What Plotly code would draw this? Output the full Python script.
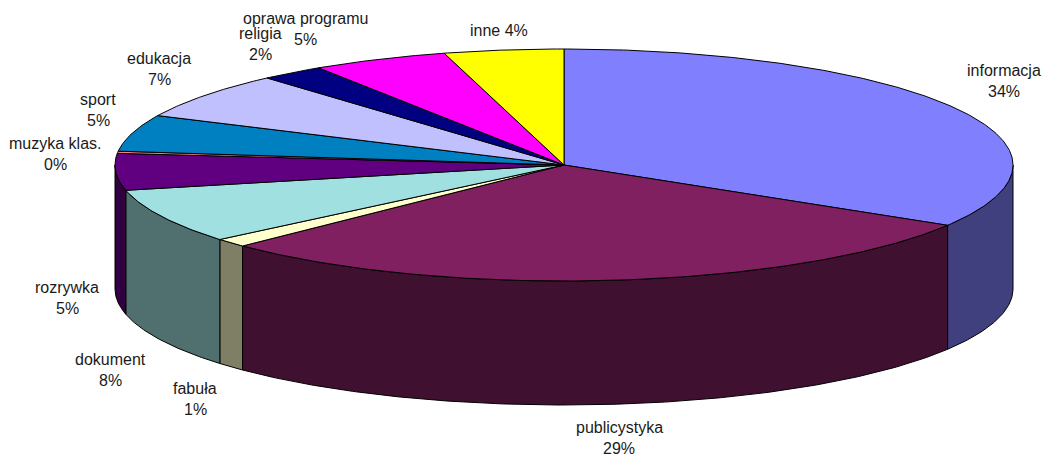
import numpy as np
import plotly.graph_objects as go

categories = ["informacja", "publicystyka", "fabuła", "dokument", "rozrywka", "muzyka klas.",
              "sport", "edukacja", "religia", "oprawa programu", "inne"]
values = [33.7, 29.0, 1.2, 7.6, 5.1, 0.3, 5.1, 6.5, 2.3, 4.9, 4.3]
percent_labels = ["34%", "29%", "1%", "8%", "5%", "0%", "5%", "7%", "2%", "5%", "4%"]
colors = ["#8080FF", "#802060", "#FFFFCC", "#A0E0E0", "#600080", "#FF8080",
          "#0080C0", "#C0C0FF", "#000080", "#FF00FF", "#FFFF00"]
label_x = [1004, 619, 195, 110, 67, 55, 98, 159, 260, 305, 499]
label_y = [70, 427, 388, 359, 287, 143, 99, 58, 33, 18, 30]

CX, CY, RX, RY, DEPTH = 564.0, 165.0, 449.0, 116.0, 124.0
LINE_GAP = 21.5
FONT = dict(family="Liberation Sans, Arial, sans-serif", size=16, color="#1a1a1a")


def arc(t1, t2, dy=0.0):
    n = max(2, int(abs(t2 - t1) * 120) + 2)
    t = np.linspace(t1, t2, n)
    return CX + RX * np.sin(t), CY - RY * np.cos(t) + dy


def darker(hex_color):
    r, g, b = (int(hex_color[i:i + 2], 16) for i in (1, 3, 5))
    return f"rgb({r // 2},{g // 2},{b // 2})"


edges = np.concatenate([[0], np.cumsum(values)]) / sum(values) * 2 * np.pi
fig = go.Figure()


def polygon(x, y, fill):
    fig.add_trace(go.Scatter(x=x, y=y, mode="lines", fill="toself", fillcolor=fill,
                             line=dict(color="black", width=1), hoverinfo="skip",
                             showlegend=False))


# Visible side wall: the front half of the rim
for i, color in enumerate(colors):
    a = max(edges[i], np.pi / 2)
    b = min(edges[i + 1], 3 * np.pi / 2)
    if b > a:
        tx, ty = arc(a, b)
        bx, by = arc(b, a, DEPTH)
        polygon(np.r_[tx, bx, tx[0]], np.r_[ty, by, ty[0]], darker(color))

# Top faces
for i, color in enumerate(colors):
    tx, ty = arc(edges[i], edges[i + 1])
    polygon(np.r_[CX, tx, CX], np.r_[CY, ty, CY], color)

for name, pct, x, y in zip(categories, percent_labels, label_x, label_y):
    if name == "inne":
        lines = [(f"{name} {pct}", y)]
    else:
        lines = [(name, y), (pct, y + LINE_GAP)]
    for text, yy in lines:
        fig.add_annotation(x=x, y=yy, text=text, showarrow=False, xanchor="center",
                           yanchor="middle", font=FONT)

fig.update_layout(
    width=1045, height=457, margin=dict(l=0, r=0, t=0, b=0),
    paper_bgcolor="white", plot_bgcolor="white", showlegend=False,
    xaxis=dict(range=[0, 1045], visible=False, fixedrange=True),
    yaxis=dict(range=[457, 0], visible=False, fixedrange=True),
)
fig.write_html("out.html", config=dict(displayModeBar=False),
               post_script="document.body.style.margin='0';document.body.style.overflow='hidden';")
